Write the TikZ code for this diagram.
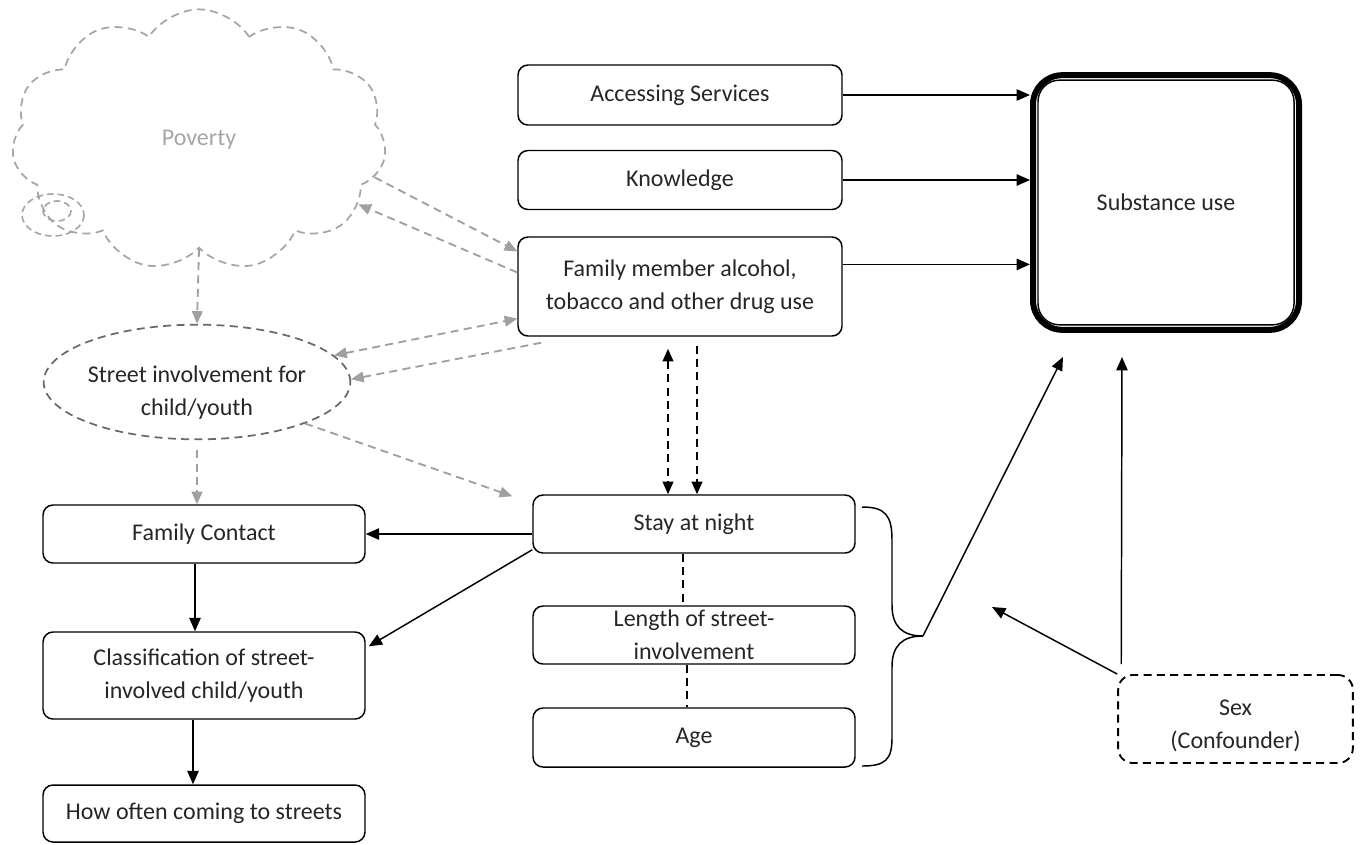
\documentclass[tikz,border=0pt]{standalone}
\usepackage{fontspec}
\setmainfont{Carlito}
\usetikzlibrary{arrows.meta,calc,shapes.geometric,shapes.symbols}

\definecolor{povgray}{RGB}{165,165,165}
\definecolor{dashgray}{RGB}{160,160,160}
\definecolor{ellgray}{RGB}{105,105,105}
\definecolor{textgray}{RGB}{38,38,38}

\tikzset{every picture/.style={line width=0.75pt}}
\tikzset{
  varbox/.style={draw, rounded corners=7.5pt, line width=1.1pt, align=center, inner sep=0.75pt, minimum width=243pt, text=textgray},
  solidarr/.style={-{Triangle[length=10pt,width=8.5pt]}, line width=1.1pt},
  grayarr/.style={-{Triangle[length=9.5pt,width=8pt]}, draw=dashgray, line width=1.4pt, dash pattern=on 6pt off 4pt},
  blackdash/.style={line width=1.4pt, dash pattern=on 6pt off 4pt},
  bothtips/.style={{Triangle[length=9.5pt,width=8pt]}-{Triangle[length=9.5pt,width=8pt]}}
}

\begin{document}
\begin{tikzpicture}[x=0.75pt,y=0.75pt,yscale=-1,xscale=1,font=\fontsize{18}{24.5}\selectfont]
\useasboundingbox (0,0) rectangle (1363,844);

%Shape: Cloud
\node [cloud, cloud puffs=11, cloud puff arc=115, aspect=1.6, draw=povgray, dash pattern=on 6pt off 4pt, line width=1.3pt, text=povgray, minimum width=281pt, minimum height=196pt, inner sep=0pt] (poverty) at (199,140) {Poverty};
\draw [povgray, dash pattern=on 5pt off 3pt, line width=1.2pt] (53,215) ellipse [x radius=31, y radius=21];
\draw [povgray, dash pattern=on 5pt off 3pt, line width=1.2pt] (57,211) ellipse [x radius=14, y radius=10];

%Shape: Ellipse
\node [ellipse, draw=ellgray, dash pattern=on 6pt off 4pt, line width=1.3pt, minimum width=230pt, minimum height=86pt, inner xsep=-20pt, inner ysep=0pt, align=center, text=textgray] (street) at (197,382) {\rule{0pt}{28pt}Street involvement for\\child/youth};

%Shape: Rounded Rect
\node [varbox, minimum height=45pt] (access) at (680,95) {Accessing Services};
\node [varbox, minimum height=44.25pt] (know) at (680,180) {Knowledge};
\node [varbox, minimum height=74.25pt] (famuse) at (680,286.5) {Family member alcohol,\\tobacco and other drug use};
\node [varbox, minimum width=241.5pt, minimum height=43.5pt] (night) at (694,524) {Stay at night};
\node [varbox, minimum width=241.5pt, minimum height=43.5pt] (length) at (694,635) {Length of street-\\involvement};
\node [varbox, minimum width=241.5pt, minimum height=44.25pt] (age) at (694,737.5) {Age};
\node [varbox, minimum width=241.5pt, minimum height=43.5pt] (contact) at (204,534) {Family Contact};
\node [varbox, minimum width=241.5pt, minimum height=65.25pt] (classif) at (204,675.5) {Classification of street-\\involved child/youth};
\node [varbox, minimum width=241.5pt, minimum height=42.75pt] (often) at (204,813.5) {How often coming to streets};

%Shape: Outcome
\node [draw, line width=4.5pt, rounded corners=22pt, minimum width=199.5pt, minimum height=191pt, text=textgray] (subst) at (1166,202.5) {Substance use};
\draw [line width=1.1pt, rounded corners=16pt] ($(subst.north west)+(8,8)$) rectangle ($(subst.south east)+(-8,-8)$);

%Shape: Confounder
\node [draw, dash pattern=on 6pt off 4pt, line width=1.4pt, rounded corners=11pt, minimum width=176pt, minimum height=66pt, align=center, text=textgray] (sex) at (1235.5,719) {\rule{0pt}{22pt}Sex\\(Confounder)};

%Shape: Brace
\draw [line width=1.1pt] (862,507) .. controls (885,507) and (892,515) .. (892,540) -- (892,605) .. controls (892,626) and (902,636) .. (923,636) coordinate (bracetip) .. controls (902,636) and (892,646) .. (892,667) -- (892,738) .. controls (892,760) and (885,766) .. (862,766);

\coordinate (substlow) at (1063,357);
\coordinate (sexlow) at (1122,357);
\coordinate (sexend) at (992,607);
\coordinate (fmdl) at ($(famuse.south)+(-12,12)$);
\coordinate (fmdr) at ($(famuse.south)+(17,9)$);

%Straight Lines
\draw [solidarr] (access.east) -- (access.east -| subst.west);
\draw [solidarr] (know.east) -- (know.east -| subst.west);
\draw [solidarr] ($(famuse.north east)!0.28!(famuse.south east)$) coordinate (fmout) -- (fmout -| subst.west);
\draw [solidarr] (bracetip) -- (substlow);
\draw [solidarr] ($(sex.north west)+(4,-10)$) -- (sexlow);
\draw [solidarr] (sex.north west) -- (sexend);

%Dashed Lines
\draw [grayarr] (poverty.-12) -- ($(famuse.north west)!0.15!(famuse.south west)$);
\draw [grayarr] ($(famuse.north west)!0.36!(famuse.south west)$) -- (poverty.-22);
\draw [grayarr, bothtips] (street.11) -- ($(famuse.north west)!0.82!(famuse.south west)$);
\draw [grayarr] ($(famuse.south west)+(24,6)$) -- (street.1);
\draw [grayarr] (poverty.south) -- (street.north);
\draw [grayarr] ($(street.south)+(0,10)$) -- (street.south |- contact.north);
\draw [grayarr] (street.-21) -- ($(night.north west)+(-20,2)$);

\draw [blackdash, bothtips] (fmdl) -- (fmdl |- night.north);
\draw [blackdash, -{Triangle[length=9.5pt,width=8pt]}] (fmdr) -- (fmdr |- night.north);
\draw [blackdash] ($(night.south)+(-11,0)$) -- ($(length.north)+(-11,0)$);
\draw [blackdash] ($(length.south)+(-7,0)$) -- ($(age.north)+(-7,0)$);

%Straight Lines
\draw [solidarr] (night.west |- contact.east) -- (contact.east);
\draw [solidarr] ($(night.south west)+(0,-4)$) -- ($(classif.north east)+(3,15)$);
\draw [solidarr] ($(contact.south)+(-9,0)$) -- ($(classif.north)+(-9,0)$);
\draw [solidarr] ($(classif.south)+(-11,0)$) -- ($(often.north)+(-11,0)$);

\end{tikzpicture}
\end{document}
